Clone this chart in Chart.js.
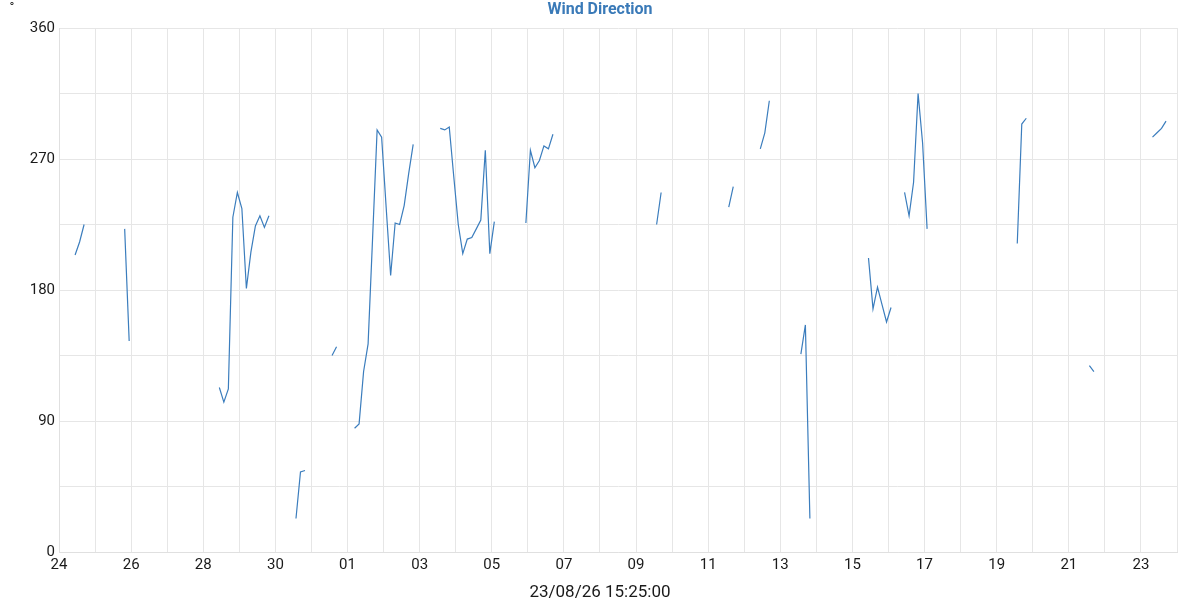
<!DOCTYPE html>
<html>
<head>
<meta charset="utf-8">
<script src="https://cdn.jsdelivr.net/npm/chart.js@4.4.1/dist/chart.umd.min.js"></script>
<style>
  html, body { margin: 0; padding: 0; background: #fff; }
  #wrap { width: 1200px; height: 600px; position: relative; }
</style>
</head>
<body>
<div id="wrap"><canvas id="c" width="1200" height="600"></canvas></div>
<script>
// Hours since 24 Jul 00:00 (3-hourly samples); null values mark gaps
const hours = [
  10.7, 13.7, 16.7, 30,
  43.7, 46.7, 80,
  106.7, 109.7, 112.7, 115.7, 118.7, 121.7, 124.7, 127.7, 130.7, 133.7, 136.7, 139.7, 150,
  157.7, 160.7, 163.7, 172,
  181.7, 184.7, 190,
  196.7, 199.7, 202.7, 205.7, 208.7, 211.7, 214.7, 217.7, 220.7, 223.7, 226.7, 229.7, 232.7, 235.7, 245,
  253.7, 256.7, 259.7, 262.7, 265.7, 268.7, 271.7, 274.7, 277.7, 280.7, 283.7, 286.7, 289.7, 300,
  310.7, 313.7, 316.7, 319.7, 322.7, 325.7, 328.7, 360,
  397.7, 400.7, 420,
  445.7, 448.7, 458,
  466.7, 469.7, 472.7, 483,
  493.7, 496.7, 499.7, 520,
  538.7, 541.7, 544.7, 547.7, 550.7, 553.7, 558,
  562.7, 565.7, 568.7, 571.7, 574.7, 577.7, 600,
  637.7, 640.7, 643.7, 665,
  685.7, 688.7, 705,
  727.7, 730.7, 733.7, 736.7
];
const directions = [
  204, 213, 225, null,
  222, 145, null,
  113, 103, 112, 230, 247, 236, 181, 206, 224, 231, 223, 231, null,
  23, 55, 56, null,
  135, 141, null,
  85, 88, 124, 143, 216, 290, 285, 237, 190, 226, 225, 238, 260, 280, null,
  291, 290, 292, 258, 225, 205, 215, 216, 222, 228, 276, 205, 227, null,
  226, 276, 264, 269, 279, 277, 287, null,
  225, 247, null,
  237, 251, null,
  277, 288, 310, null,
  136, 156, 23, null,
  202, 167, 182, 170, 158, 168, null,
  247, 231, 254, 315, 281, 222, null,
  212, 294, 298, null,
  128, 124, null,
  285, 288, 291, 296
];
// Day-of-month labels for each midnight from 24 Jul to 24 Aug
const dayLabels = ['24','25','26','27','28','29','30','31',
  '01','02','03','04','05','06','07','08','09','10','11','12','13','14','15','16',
  '17','18','19','20','21','22','23','24'];
const yTickLabels = { 0: '0', 90: '90', 180: '180', 270: '270', 360: '360' };
const chartTitle = 'Wind Direction';
const xAxisTitle = '23/08/26 15:25:00';
const unitLabel = '°';

const points = hours.map((h, i) => ({ x: h, y: directions[i] }));

const textPlugin = {
  id: 'texts',
  afterDraw(chart) {
    const ctx = chart.ctx;
    ctx.save();
    ctx.textAlign = 'center';
    ctx.textBaseline = 'middle';
    ctx.fillStyle = '#3a7ab8';
    ctx.font = 'bold 16px Roboto';
    ctx.fillText(chartTitle, 600, 10);
    ctx.fillStyle = '#1a1a1a';
    ctx.font = '17px Roboto';
    ctx.fillText(xAxisTitle, 600, 593);
    ctx.font = '13px Roboto';
    ctx.fillText(unitLabel, 12, 8);
    ctx.restore();
  }
};

new Chart(document.getElementById('c'), {
  type: 'line',
  data: {
    datasets: [{
      data: points,
      borderColor: '#3b7dbd',
      borderWidth: 1.2,
      pointRadius: 0,
      tension: 0,
      spanGaps: false,
      fill: false
    }]
  },
  options: {
    responsive: false,
    animation: false,
    layout: { padding: { top: 28, right: 23, bottom: 0, left: 0 } },
    plugins: { legend: { display: false }, tooltip: { enabled: false }, title: { display: false } },
    scales: {
      x: {
        type: 'linear',
        min: 0,
        max: 744,
        afterFit(s) { s.height = 48; },
        grid: { color: '#e6e6e6', lineWidth: 1, drawTicks: false },
        border: { color: '#e0e0e0' },
        ticks: {
          stepSize: 24,
          autoSkip: false,
          maxRotation: 0,
          padding: 4,
          color: '#1a1a1a',
          font: { family: 'Roboto', size: 15 },
          callback(v) {
            const d = Math.round(v / 24);
            return d % 2 === 0 ? dayLabels[d] : '';
          }
        }
      },
      y: {
        min: 0,
        max: 360,
        afterFit(s) { s.width = 59; },
        grid: { color: '#e6e6e6', lineWidth: 1, drawTicks: false },
        border: { color: '#e0e0e0' },
        ticks: {
          stepSize: 45,
          padding: 4,
          color: '#1a1a1a',
          font: { family: 'Roboto', size: 15 },
          callback(v) { return yTickLabels[v] !== undefined ? yTickLabels[v] : ''; }
        }
      }
    }
  },
  plugins: [textPlugin]
});
</script>
</body>
</html>
